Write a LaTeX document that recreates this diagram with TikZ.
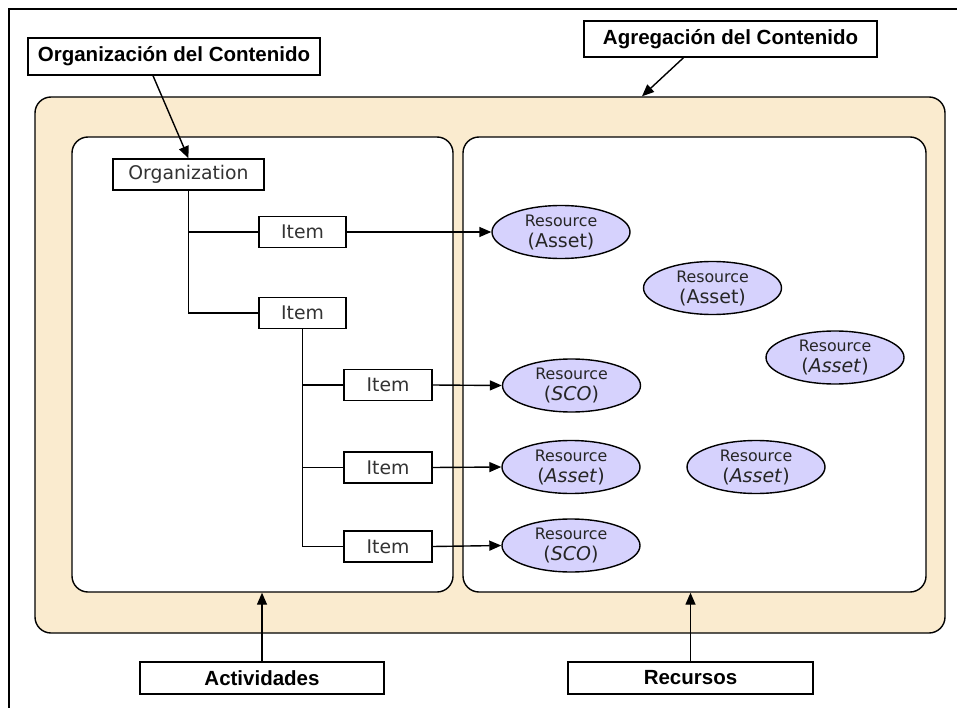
\documentclass[tikz,border=0pt]{standalone}
\usepackage{fontspec}
\setmainfont{Liberation Sans}
\newfontfamily\vfont{DejaVu Sans}
\usetikzlibrary{shapes.geometric,arrows.meta}
\definecolor{tanfill}{HTML}{FAEBCF}
\definecolor{lilac}{HTML}{D6D2FD}
\begin{document}
\begin{tikzpicture}[x=1pt,y=-1pt,line width=1.4pt,
  labelbox/.style={draw,rectangle,fill=white,inner sep=0pt,
    font=\fontsize{20.5}{23}\selectfont\bfseries},
  treebox/.style={draw,rectangle,fill=white,inner sep=0pt,minimum height=31pt,
    font=\vfont\fontsize{18.8}{20}\selectfont,text=black!80},
  itembox/.style={treebox,minimum width=88pt},
  res/.style={draw,ellipse,fill=lilac,inner sep=-3pt,minimum width=138pt,
    minimum height=53pt,align=center,
    font=\vfont\fontsize{15.8}{21}\selectfont,text=black!85},
  panel/.style={draw,rounded corners=16pt,inner sep=0pt},
  tip/.style={-{Triangle[length=12pt,width=10pt]}}
]
\useasboundingbox (0,0) rectangle (957,708);

% page frame
\draw[line width=1.5pt] (9,708) -- (9,9) -- (957,9);

% aggregation container and its two panels
\node[panel,fill=tanfill,minimum width=910pt,minimum height=536pt] (agg) at (490,365) {};
\node[panel,fill=white,minimum width=381pt,minimum height=455pt] (act) at (262.5,364.5) {};
\node[panel,fill=white,minimum width=463pt,minimum height=455pt] (rec) at (694.5,364.5) {};
\coordinate (aggtop) at ([xshift=152pt]agg.north);

% callout labels
\node[labelbox,minimum width=292pt,minimum height=37pt] (orglabel) at (174,56.5) {Organización del Contenido};
\node[labelbox,minimum width=293pt,minimum height=36pt] (agglabel) at (730.5,39) {Agregación del Contenido};
\node[labelbox,minimum width=244pt,minimum height=32pt] (actlabel) at (262,678) {Actividades};
\node[labelbox,minimum width=245pt,minimum height=32pt] (reclabel) at (690.5,678) {Recursos};

% organization tree
\node[treebox,minimum width=151pt] (org) at (188.5,174.5) {Organization};
\node[itembox,minimum width=87pt] (i1) at (302.5,232) {Item};
\node[itembox,minimum width=87pt] (i2) at (302.5,313) {Item};
\node[itembox] (i3) at (388,385) {Item};
\node[itembox] (i4) at (388,467.5) {Item};
\node[itembox] (i5) at (388,546.5) {Item};

% resources
\node[res] (r1) at (561,232) {Resource\\{\fontsize{19}{21}\selectfont(Asset)}};
\node[res] (r2) at (712.5,288) {Resource\\{\fontsize{19}{21}\selectfont(Asset)}};
\node[res] (r3) at (835,357.5) {Resource\\{\fontsize{19}{21}\selectfont(\textit{Asset})}};
\node[res] (r4) at (571.5,385.5) {Resource\\{\fontsize{19}{21}\selectfont(\textit{SCO})}};
\node[res] (r5) at (571,467) {Resource\\{\fontsize{19}{21}\selectfont(\textit{Asset})}};
\node[res] (r6) at (756,467) {Resource\\{\fontsize{19}{21}\selectfont(\textit{Asset})}};
\node[res] (r7) at (571,545.5) {Resource\\{\fontsize{19}{21}\selectfont(\textit{SCO})}};

% tree connectors
\draw (org.south) |- (i1.west);
\draw (org.south) |- (i2.west);
\draw (i2.south) |- (i3.west);
\draw (i2.south) |- (i4.west);
\draw (i2.south) |- (i5.west);

% item to resource references
\draw[tip] (i1.east) -- (r1.west);
\draw[tip] (i3.east) -- (r4.west);
\draw[tip] (i4.east) -- (r5.west);
\draw[tip] (i5.east) -- (r7.west);

% callout arrows
\draw[tip] ([xshift=-21pt]orglabel.south) -- (org.north);
\draw[tip] ([xshift=-47pt]agglabel.south) -- (aggtop);
\draw[tip] (actlabel.north) -- (actlabel.north |- act.south);
\draw[tip] (reclabel.north) -- (reclabel.north |- rec.south);
\end{tikzpicture}
\end{document}
